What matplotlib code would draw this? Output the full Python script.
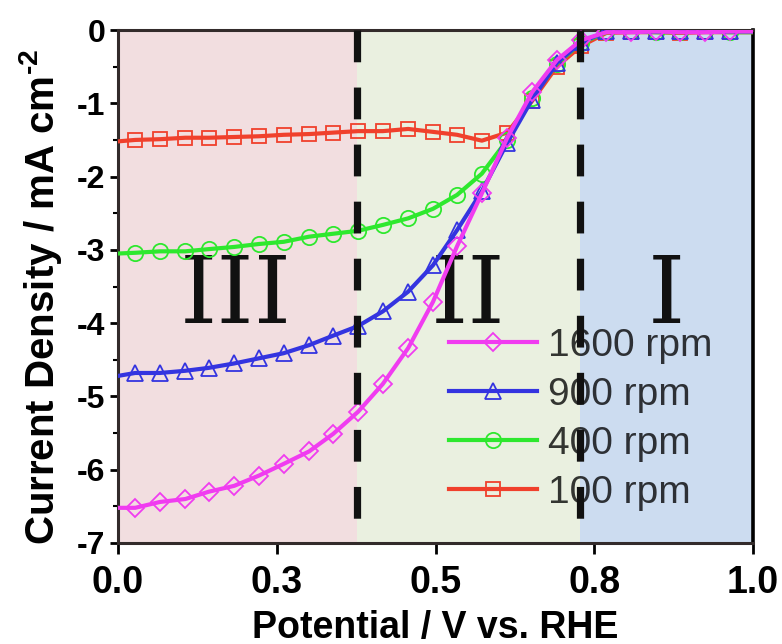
import matplotlib
matplotlib.use("Agg")
import matplotlib.pyplot as plt
from matplotlib.lines import Line2D

plt.rcParams['font.family'] = ['Liberation Sans', 'DejaVu Sans']
plt.rcParams['axes.unicode_minus'] = False
plt.rcParams['mathtext.fontset'] = 'custom'
plt.rcParams['mathtext.rm'] = 'Liberation Sans:bold'
plt.rcParams['mathtext.bf'] = 'Liberation Sans:bold'
plt.rcParams['mathtext.default'] = 'bf'

# ---------------------------------------------------------------------------
# LSV data (current density in mA cm-2 vs potential in V vs. RHE)
# ---------------------------------------------------------------------------
potential = [0.000, 0.027, 0.066, 0.106, 0.143, 0.183, 0.222, 0.261, 0.301,
             0.339, 0.378, 0.417, 0.457, 0.496, 0.534, 0.573, 0.613, 0.652,
             0.691, 0.729, 0.769, 0.808, 0.847, 0.885, 0.924, 0.964, 1.000]

j_100 = [-1.52, -1.50, -1.49, -1.47, -1.47, -1.46, -1.45, -1.43, -1.42,
         -1.40, -1.38, -1.38, -1.35, -1.39, -1.43, -1.51, -1.40, -0.97,
         -0.50, -0.22, -0.04, -0.03, -0.03, -0.04, -0.03, -0.03, -0.03]
j_400 = [-3.05, -3.04, -3.02, -3.02, -2.99, -2.96, -2.92, -2.89, -2.82,
         -2.78, -2.74, -2.66, -2.57, -2.44, -2.25, -1.96, -1.50, -0.93,
         -0.46, -0.18, -0.03, -0.02, -0.03, -0.03, -0.02, -0.03, -0.03]
j_900 = [-4.72, -4.68, -4.68, -4.65, -4.61, -4.55, -4.48, -4.41, -4.30,
         -4.17, -4.04, -3.84, -3.57, -3.21, -2.73, -2.20, -1.54, -0.95,
         -0.45, -0.17, -0.02, -0.02, -0.02, -0.02, -0.02, -0.02, -0.02]
j_1600 = [-6.52, -6.52, -6.44, -6.40, -6.30, -6.22, -6.08, -5.92, -5.75,
          -5.51, -5.21, -4.83, -4.34, -3.71, -2.95, -2.23, -1.47, -0.85,
          -0.41, -0.14, -0.03, -0.03, -0.02, -0.03, -0.03, -0.02, -0.02]

rpm_labels = ['1600 rpm', '900 rpm', '400 rpm', '100 rpm']

# region boundaries (V) and labels
bounds = [0.0, 0.377, 0.727, 1.0]
region_names = ['III', 'II', 'I']
region_label_x = [0.186, 0.551, 0.863]
region_colors = ['#f2dee0', '#eaf0e0', '#ccdcf0']

xticks = [0.0, 0.25, 0.5, 0.75, 1.0]
xtick_labels = ['0.0', '0.3', '0.5', '0.8', '1.0']
yticks = [0, -1, -2, -3, -4, -5, -6, -7]

# ---------------------------------------------------------------------------
# Figure
# ---------------------------------------------------------------------------
fig = plt.figure(figsize=(7.82, 6.44), dpi=100)
ax = fig.add_axes([118 / 782, 1 - 543 / 644, 635 / 782, 513 / 644])

for i, name in enumerate(region_names):
    ax.axvspan(bounds[i], bounds[i + 1], color=region_colors[i], lw=0, zorder=0)
    ax.text(region_label_x[i], -4.0, name, ha='center', va='baseline',
            fontfamily='DejaVu Serif', fontsize=68, color='#111111', zorder=3)

# dashed region separators, drawn from the top down
for b in bounds[1:-1]:
    ax.plot([b, b], [1, 0], transform=ax.get_xaxis_transform(), color='#111111',
            lw=5.2, dashes=(4.4, 3.5), zorder=10, clip_on=False)

style = dict(lw=3, mfc='none', mew=1.3, markevery=slice(1, -1), zorder=4)
series = [
    (j_100, '#f0402c', 's', 10, rpm_labels[3]),
    (j_400, '#2ee82e', 'o', 11, rpm_labels[2]),
    (j_900, '#3434e0', '^', 12, rpm_labels[1]),
    (j_1600, '#f03cf0', 'D', 9, rpm_labels[0]),
]
handles = {}
for j, color, marker, ms, label in series:
    ax.plot(potential, j, color=color, marker=marker, ms=ms, mec=color, **style)
    handles[label] = Line2D([], [], color=color, lw=3, marker=marker, ms=ms,
                            mfc='none', mec=color, mew=1.3)

leg = ax.legend([handles[l] for l in rpm_labels], rpm_labels, loc='upper left',
                bbox_to_anchor=(0.521, 0.419), frameon=False, fontsize=28,
                handlelength=2.26, handletextpad=0.28, labelspacing=0.33,
                borderpad=0, borderaxespad=0, numpoints=1)
for t in leg.get_texts():
    t.set_color('black')
    t.set_alpha(0.78)

ax.set_xlim(0, 1.0)
ax.set_ylim(-7, 0)
ax.set_xticks(xticks)
ax.set_xticklabels(xtick_labels)
ax.set_yticks(yticks)
ax.set_yticks([y - 0.5 for y in yticks[:-1]], minor=True)

for lab in ax.get_xticklabels():
    lab.set_fontweight('bold')
    lab.set_fontsize(27)
for lab in ax.get_yticklabels():
    lab.set_fontweight('bold')
    lab.set_fontsize(23)

ax.tick_params(axis='x', direction='out', length=8, width=2, pad=8)
ax.tick_params(axis='y', which='major', direction='out', length=6, width=2, pad=3)
ax.tick_params(axis='y', which='minor', direction='out', length=3.5, width=1.5)

for side in ['left', 'bottom', 'top']:
    ax.spines[side].set_color('#332b2b')
    ax.spines[side].set_linewidth(2.2)
ax.spines['right'].set_color('black')
ax.spines['right'].set_linewidth(2.6)

ax.set_xlabel('Potential / V vs. RHE', fontsize=27, fontweight='bold', labelpad=6)
ax.set_ylabel('Current Density / mA cm$^{\u20102}$', fontsize=29, fontweight='bold')
ax.yaxis.set_label_coords(-0.085, 0.48)

fig.savefig('out.png', dpi=100)
